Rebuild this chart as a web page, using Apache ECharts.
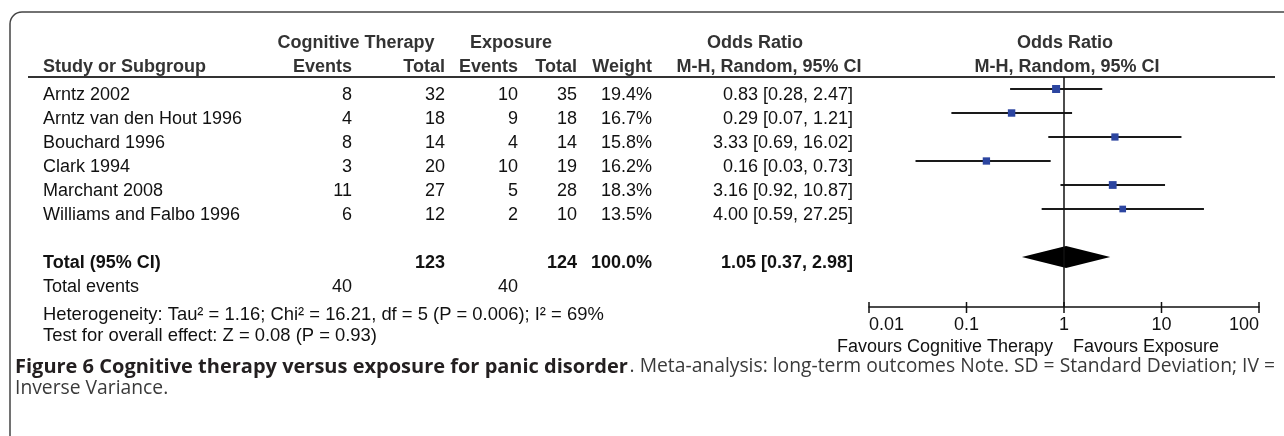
<!DOCTYPE html>
<html>
<head>
<meta charset="utf-8">
<script src="https://cdn.jsdelivr.net/npm/echarts@6/dist/echarts.min.js"></script>
<style>
  html, body { margin: 0; padding: 0; background: #fff; }
  #chart { width: 1284px; height: 436px; }
</style>
</head>
<body>
<div id="chart"></div>
<script>
// study level data
const studies = ['Arntz 2002', 'Arntz van den Hout 1996', 'Bouchard 1996', 'Clark 1994', 'Marchant 2008', 'Williams and Falbo 1996'];
const ctEvents = [8, 4, 8, 3, 11, 6];
const ctTotal = [32, 18, 14, 20, 27, 12];
const exEvents = [10, 9, 4, 10, 5, 2];
const exTotal = [35, 18, 14, 19, 28, 10];
const weights = [19.4, 16.7, 15.8, 16.2, 18.3, 13.5];
const oddsRatio = [0.83, 0.29, 3.33, 0.16, 3.16, 4.00];
const ciLow = [0.28, 0.07, 0.69, 0.03, 0.92, 0.59];
const ciHigh = [2.47, 1.21, 16.02, 0.73, 10.87, 27.25];

// pooled (random effects) result
const pooled = [1.05, 0.37, 2.98];
const pooledWeight = '100.0%';
const pooledRow = 7;

// axis
const axisTicks = [0.01, 0.1, 1, 10, 100];
const tickLabels = ['0.01', '0.1', '1', '10', '100'];

const heterogeneityText = 'Heterogeneity: Tau² = 1.16; Chi² = 16.21, df = 5 (P = 0.006); I² = 69%';
const overallText = 'Test for overall effect: Z = 0.08 (P = 0.93)';

const FONT = '"Liberation Sans", Arial, Helvetica, sans-serif';
const CAPTION_FONT = '"Open Sans", "Noto Sans", sans-serif';

const sum = arr => arr.reduce((a, b) => a + b, 0);
const fmtCI = (m, lo, hi) => `${m.toFixed(2)} [${lo.toFixed(2)}, ${hi.toFixed(2)}]`;

// table rows -> cells
const colX = [43, 352, 445, 518, 577, 652, 853];
const colAlign = ['left', 'right', 'right', 'right', 'right', 'right', 'right'];

const tableRows = studies.map((s, i) => ({
  row: i,
  bold: false,
  cells: [s, ctEvents[i], ctTotal[i], exEvents[i], exTotal[i], weights[i].toFixed(1) + '%', fmtCI(oddsRatio[i], ciLow[i], ciHigh[i])]
}));
tableRows.push({
  row: pooledRow,
  bold: true,
  cells: ['Total (95% CI)', '', sum(ctTotal), '', sum(exTotal), pooledWeight, fmtCI(pooled[0], pooled[1], pooled[2])]
});
tableRows.push({
  row: pooledRow + 1,
  bold: false,
  cells: ['Total events', sum(ctEvents), '', sum(exEvents), '', '', '']
});

const chart = echarts.init(document.getElementById('chart'));

function txt(text, x, y, opts) {
  opts = opts || {};
  return {
    type: 'text',
    x: x,
    y: y,
    silent: true,
    style: {
      text: text,
      fill: opts.fill || '#111',
      font: (opts.bold ? 'bold ' : '') + (opts.size || 18) + 'px ' + (opts.family || FONT),
      align: opts.align || 'left',
      textAlign: opts.align || 'left',
      verticalAlign: 'middle',
      textVerticalAlign: 'middle'
    }
  };
}

const headerColor = '#333';

const option = {
  animation: false,
  backgroundColor: '#fff',
  grid: [
    // forest plot panel
    { left: 869, width: 390, top: 77, height: 230 },
    // table panel (same row scale, shifted to text centre)
    { left: 0, width: 1284, top: 83, height: 230 }
  ],
  xAxis: [
    {
      gridIndex: 0,
      type: 'log',
      logBase: 10,
      min: 0.01,
      max: 100,
      axisLine: { show: true, onZero: false, lineStyle: { color: '#111', width: 1.5 } },
      axisTick: { show: false },
      splitLine: { show: false },
      axisLabel: {
        margin: 9,
        color: '#111',
        fontSize: 18,
        fontFamily: FONT,
        alignMinLabel: 'left',
        alignMaxLabel: 'right',
        formatter: v => tickLabels[Math.round(Math.log10(v)) + 2]
      }
    },
    { gridIndex: 1, type: 'value', min: 0, max: 1284, show: false }
  ],
  yAxis: [
    { gridIndex: 0, type: 'value', min: -0.5, max: 9.0833, inverse: true, show: false },
    { gridIndex: 1, type: 'value', min: -0.5, max: 9.0833, inverse: true, show: false }
  ],
  graphic: [
    // rounded frame
    {
      type: 'rect',
      shape: { x: 10, y: 12, width: 1320, height: 460, r: 12 },
      style: { fill: 'none', stroke: '#444', lineWidth: 1.5 },
      silent: true
    },
    // header underline
    {
      type: 'line',
      shape: { x1: 28, y1: 77, x2: 1275, y2: 77 },
      style: { stroke: '#333', lineWidth: 2 },
      silent: true
    },
    txt('Cognitive Therapy', 356, 43, { bold: true, align: 'center', fill: headerColor }),
    txt('Exposure', 511, 43, { bold: true, align: 'center', fill: headerColor }),
    txt('Odds Ratio', 755, 43, { bold: true, align: 'center', fill: headerColor }),
    txt('Odds Ratio', 1065, 43, { bold: true, align: 'center', fill: headerColor }),
    txt('Study or Subgroup', 43, 67, { bold: true, fill: headerColor }),
    txt('Events', 352, 67, { bold: true, align: 'right', fill: headerColor }),
    txt('Total', 445, 67, { bold: true, align: 'right', fill: headerColor }),
    txt('Events', 518, 67, { bold: true, align: 'right', fill: headerColor }),
    txt('Total', 577, 67, { bold: true, align: 'right', fill: headerColor }),
    txt('Weight', 652, 67, { bold: true, align: 'right', fill: headerColor }),
    txt('M-H, Random, 95% CI', 769, 67, { bold: true, align: 'center', fill: headerColor }),
    txt('M-H, Random, 95% CI', 1067, 67, { bold: true, align: 'center', fill: headerColor }),
    txt(heterogeneityText, 43, 315, { size: 18.4 }),
    txt(overallText, 43, 336, { size: 18.4 }),
    txt('Favours Cognitive Therapy', 1053, 347, { align: 'right' }),
    txt('Favours Exposure', 1073, 347),
    // caption
    txt('Figure 6 Cognitive therapy versus exposure for panic disorder', 15, 367,
      { bold: true, size: 20, family: CAPTION_FONT, fill: '#231f20' }),
    txt('. Meta-analysis: long-term outcomes Note. SD = Standard Deviation; IV =', 1275, 367,
      { size: 19.3, align: 'right', family: CAPTION_FONT, fill: '#3a3a3a' }),
    txt('Inverse Variance.', 15, 389, { size: 19.3, family: CAPTION_FONT, fill: '#3a3a3a' })
  ],
  series: [
    // table cells
    {
      type: 'custom',
      xAxisIndex: 1,
      yAxisIndex: 1,
      clip: false,
      silent: true,
      data: tableRows.map(r => [0, r.row]),
      renderItem: (params, api) => {
        const r = tableRows[params.dataIndex];
        const y = api.coord([0, api.value(1)])[1];
        return {
          type: 'group',
          children: r.cells.map((c, k) => txt(String(c), colX[k], y, { bold: r.bold, align: colAlign[k] }))
        };
      }
    },
    // study CIs and weighted squares
    {
      type: 'custom',
      xAxisIndex: 0,
      yAxisIndex: 0,
      clip: false,
      silent: true,
      encode: { x: [0, 1, 2], y: 3 },
      data: oddsRatio.map((v, i) => [v, ciLow[i], ciHigh[i], i, weights[i]]),
      renderItem: (params, api) => {
        const row = api.value(3);
        const c = api.coord([api.value(0), row]);
        const lo = api.coord([api.value(1), row]);
        const hi = api.coord([api.value(2), row]);
        const s = Math.sqrt(api.value(4)) * 1.82;
        return {
          type: 'group',
          children: [
            {
              type: 'line',
              shape: { x1: lo[0], y1: c[1], x2: hi[0], y2: c[1] },
              style: { stroke: '#1a1a1a', lineWidth: 2 }
            },
            {
              type: 'rect',
              shape: { x: c[0] - s / 2, y: c[1] - s / 2, width: s, height: s },
              style: { fill: '#2c45a0' }
            }
          ]
        };
      },
      markLine: {
        silent: true,
        symbol: 'none',
        label: { show: false },
        lineStyle: { color: '#111', width: 1.5, type: 'solid' },
        data: [{ xAxis: 1 }]
      }
    },
    // pooled diamond
    {
      type: 'custom',
      xAxisIndex: 0,
      yAxisIndex: 0,
      clip: false,
      silent: true,
      data: [[pooled[0], pooled[1], pooled[2], pooledRow]],
      renderItem: (params, api) => {
        const row = api.value(3);
        const c = api.coord([api.value(0), row]);
        const lo = api.coord([api.value(1), row]);
        const hi = api.coord([api.value(2), row]);
        const h = 11;
        return {
          type: 'polygon',
          shape: { points: [[lo[0], c[1]], [c[0], c[1] - h], [hi[0], c[1]], [c[0], c[1] + h]] },
          style: { fill: '#000' }
        };
      }
    },
    // axis ticks (cross the axis line)
    {
      type: 'custom',
      xAxisIndex: 0,
      yAxisIndex: 0,
      clip: false,
      silent: true,
      data: axisTicks.map(t => [t]),
      renderItem: (params, api) => {
        const x = api.coord([api.value(0), 0])[0];
        const bottom = params.coordSys.y + params.coordSys.height;
        return {
          type: 'line',
          shape: { x1: x, y1: bottom - 5, x2: x, y2: bottom + 6 },
          style: { stroke: '#111', lineWidth: 1.5 }
        };
      }
    }
  ]
};

chart.setOption(option);
</script>
</body>
</html>
